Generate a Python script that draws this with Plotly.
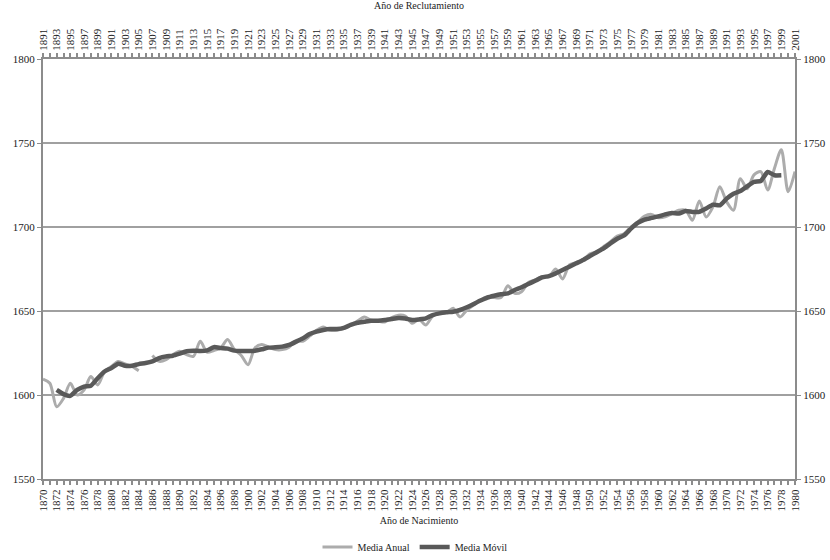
import plotly.graph_objects as go

years = list(range(1870, 1981))

media_anual = [
    1609.5, 1607, 1593, 1598, 1607, 1600, 1603, 1611, 1606, 1614,   # 1870-1879
    1617, 1620, 1618.5, 1617, 1614.5, None, 1623.5, 1620, 1621, 1624,  # 1880-1889
    1626, 1624, 1623, 1632, 1625.5, 1626.5, 1628, 1633, 1627, 1623.5,  # 1890-1899
    1618, 1628, 1630, 1628.5, 1627, 1627, 1628.5, 1632.5, 1632, 1635,  # 1900-1909
    1638.5, 1640.5, 1638.5, 1638.5, 1639.5, 1641.5, 1644, 1646.5, 1644.5, 1644,  # 1910-1919
    1643.5, 1646, 1647.5, 1647, 1642.7, 1645, 1641.7, 1647, 1648.6, 1649,  # 1920-1929
    1651.6, 1646.5, 1650.6, 1653.6, 1656.5, 1658.5, 1658, 1658, 1665, 1660.5,  # 1930-1939
    1661.5, 1667, 1668.5, 1670.4, 1670.4, 1675, 1669, 1677.4, 1678.8, 1680.4,  # 1940-1949
    1684, 1685.3, 1688.3, 1691.3, 1694.6, 1696, 1700, 1703, 1706.5, 1707.5,  # 1950-1959
    1705.5, 1706, 1708, 1710, 1710, 1704, 1715.5, 1706, 1712, 1724,  # 1960-1969
    1715, 1710, 1728.8, 1722.8, 1731, 1733, 1722, 1735, 1746, 1721,  # 1970-1979
    1733,  # 1980
]

ma_years = list(range(1872, 1979))
media_movil = [
    1603, 1600.5, 1599.5, 1603, 1605, 1605.5, 1610, 1614,  # 1872-1879
    1616, 1618.6, 1617.4, 1617.4, 1618.4, 1619, 1620, 1622, 1623, 1623.4,  # 1880-1889
    1624.6, 1626, 1626.4, 1626.2, 1626.6, 1628.5, 1628, 1627.6, 1626.4, 1626.2,  # 1890-1899
    1626.2, 1626.4, 1627.2, 1628.2, 1628.4, 1628.8, 1629.8, 1631.7, 1633.7, 1636.3,  # 1900-1909
    1637.7, 1638.7, 1639.3, 1639.3, 1640, 1641.7, 1643, 1643.6, 1644.2, 1644.2,  # 1910-1919
    1644.6, 1645.2, 1645.8, 1645.5, 1644.6, 1645, 1645.6, 1647.6, 1648.6, 1649.2,  # 1920-1929
    1649.6, 1650.6, 1652.2, 1654.2, 1656.2, 1658, 1659.1, 1660, 1660.5, 1662.5,  # 1930-1939
    1664.1, 1666.1, 1668, 1670, 1670.8, 1672.4, 1674.4, 1676.4, 1678.4, 1680.4,  # 1940-1949
    1682.7, 1685, 1687.3, 1690.3, 1693, 1695, 1699, 1702.4, 1704.4, 1705.4,  # 1950-1959
    1706.3, 1707.5, 1708.3, 1708, 1709.5, 1709, 1709, 1711, 1713.3, 1712.9,  # 1960-1969
    1716.9, 1719.8, 1721.4, 1724.2, 1726.8, 1727.4, 1732.7, 1730.8, 1730.8,  # 1970-1978
]

birth_range = [1870, 1980]
recruit_range = [1891, 2001]
y_range = [1550, 1800]

FONT = "Liberation Serif, Times New Roman, serif"
AXIS_COLOR = "#8c8c8c"
GRID_COLOR = "#a0a0a0"

fig = go.Figure()
fig.add_trace(go.Scatter(
    x=years, y=media_anual, name="Media Anual", mode="lines",
    line=dict(color="#acacac", width=3, shape="spline", smoothing=0.8),
    connectgaps=False,
))
fig.add_trace(go.Scatter(
    x=ma_years, y=media_movil, name="Media Móvil", mode="lines",
    line=dict(color="#595959", width=4.5, shape="spline", smoothing=0.5),
))
# invisible trace to activate secondary axes (top x / right y)
fig.add_trace(go.Scatter(
    x=recruit_range, y=y_range, xaxis="x2", yaxis="y2", mode="lines",
    line=dict(color="rgba(0,0,0,0)", width=0), showlegend=False, hoverinfo="skip",
))

common_x = dict(
    tickangle=-90, dtick=2, ticks="outside", ticklen=4, tickwidth=1.5,
    tickcolor=AXIS_COLOR, showline=True, linecolor=AXIS_COLOR, linewidth=2,
    showgrid=False, zeroline=False, automargin=False,
    tickfont=dict(family=FONT, size=11, color="#222"),
    minor=dict(dtick=1, ticks="outside", ticklen=4, tickcolor=AXIS_COLOR, tickwidth=1.5),
)

fig.update_layout(
    width=830, height=560,
    margin=dict(l=43, r=35, t=59, b=81, autoexpand=False),
    paper_bgcolor="white", plot_bgcolor="white",
    font=dict(family=FONT, size=10, color="#222"),
    showlegend=True,
    legend=dict(orientation="h", x=0.5, xanchor="center", xref="container",
                y=1 - 547 / 560, yanchor="middle", yref="container",
                font=dict(family=FONT, size=10, color="#222"), itemwidth=30,
                tracegroupgap=0),
    xaxis=dict(range=birth_range, tick0=1870,
               title=dict(text="Año de Nacimiento", font=dict(family=FONT, size=10), standoff=7),
               **common_x),
    xaxis2=dict(range=recruit_range, tick0=1891, overlaying="x", side="top", anchor="y",
                title=dict(text="Año de Reclutamiento", font=dict(family=FONT, size=10), standoff=17),
                **common_x),
    yaxis=dict(range=y_range, dtick=50, showgrid=True, gridcolor=GRID_COLOR, gridwidth=1.5,
               showline=True, linecolor=AXIS_COLOR, linewidth=2, ticks="outside",
               ticklen=4, tickcolor=AXIS_COLOR, zeroline=False, automargin=False,
               tickfont=dict(family=FONT, size=11, color="#222")),
    yaxis2=dict(range=y_range, dtick=50, overlaying="y", side="right", anchor="x",
                showgrid=False, showline=True, linecolor=AXIS_COLOR, linewidth=2,
                ticks="outside", ticklen=4, tickcolor=AXIS_COLOR, zeroline=False,
                automargin=False,
                tickfont=dict(family=FONT, size=11, color="#222")),
)

fig.write_html(
    "out.html",
    config={"displayModeBar": False},
    post_script="document.body.style.margin='0';document.body.style.overflow='hidden';",
)
